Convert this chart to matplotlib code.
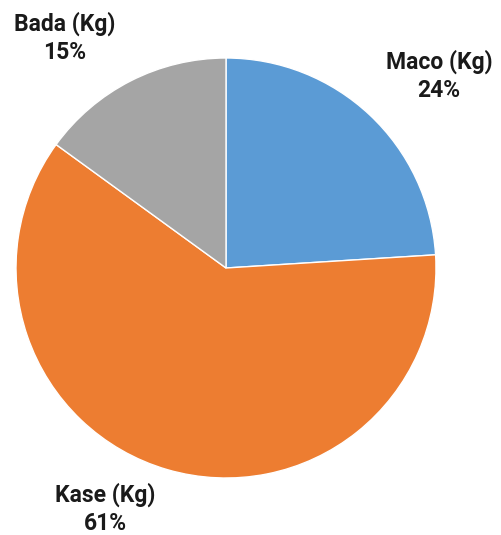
import matplotlib.pyplot as plt

labels = ['Maco (Kg)', 'Kase (Kg)', 'Bada (Kg)']
values = [24, 61, 15]
colors = ['#5B9BD5', '#ED7D31', '#A5A5A5']

W, H = 501, 535
fig = plt.figure(figsize=(W / 100, H / 100), dpi=100)
ax = fig.add_axes([0, 0, 1, 1])

ax.pie(values, colors=colors, startangle=90, counterclock=False,
       center=(226, H - 268), radius=210,
       wedgeprops=dict(edgecolor='white', linewidth=1))

ax.set_xlim(0, W)
ax.set_ylim(0, H)
ax.set_aspect('equal')
ax.axis('off')

# label centres, pixel coords from the top-left corner
label_pos = [(439, 76), (105, 509), (65, 38)]
for lab, v, (x, y) in zip(labels, values, label_pos):
    ax.text(x, H - y, f"{lab}\n{v}%", ha='center', va='center',
            fontsize=16.5, fontweight='bold', color='#1a1a1a',
            family=['Roboto', 'DejaVu Sans'], linespacing=1.3)

fig.savefig('out.png', dpi=100)
